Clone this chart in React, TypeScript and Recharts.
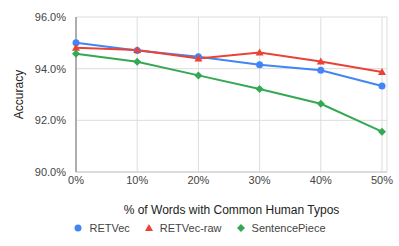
import { LineChart, Line, XAxis, YAxis, CartesianGrid, Legend, Label } from 'recharts';

const TYPO_RATES = ['0%', '10%', '20%', '30%', '40%', '50%'];
const RETVEC = [95.0, 94.7, 94.46, 94.15, 93.94, 93.33];
const RETVEC_RAW = [94.81, 94.72, 94.39, 94.63, 94.28, 93.87];
const SENTENCE_PIECE = [94.58, 94.27, 93.74, 93.21, 92.64, 91.56];
const Y_TICKS = [90, 92, 94, 96];

const SERIES = [
    { dataKey: 'RETVec', color: '#4285F4', shape: 'circle' },
    { dataKey: 'RETVec-raw', color: '#EA4335', shape: 'triangle' },
    { dataKey: 'SentencePiece', color: '#34A853', shape: 'diamond' },
];

const data = TYPO_RATES.map((name, i) => ({
    name,
    RETVec: RETVEC[i],
    'RETVec-raw': RETVEC_RAW[i],
    SentencePiece: SENTENCE_PIECE[i],
}));

const FONT = '"Liberation Sans", Arial, sans-serif';

const Marker = ({ cx, cy, shape, color }: any) => {
    if (cx == null || cy == null) return null;
    if (shape === 'triangle') {
        return <path d={`M${cx},${cy - 4} L${cx + 4},${cy + 3} L${cx - 4},${cy + 3} Z`} fill={color} />;
    }
    if (shape === 'diamond') {
        return <path d={`M${cx},${cy - 4} L${cx + 4},${cy} L${cx},${cy + 4} L${cx - 4},${cy} Z`} fill={color} />;
    }
    return <circle cx={cx} cy={cy} r={3.5} fill={color} />;
};

const LegendContent = () => (
    <div style={{ display: 'flex', justifyContent: 'center', alignItems: 'center', fontFamily: FONT, fontSize: 11, color: '#444' }}>
        {SERIES.map((s) => (
            <div key={s.dataKey} style={{ display: 'flex', alignItems: 'center', margin: '0 7px' }}>
                <svg width={10} height={10} style={{ marginRight: 6 }}>
                    <Marker cx={5} cy={5} shape={s.shape} color={s.color} />
                </svg>
                <span>{s.dataKey}</span>
            </div>
        ))}
    </div>
);

export default function App() {
    return (
        <div style={{ position: 'absolute', left: 0, top: 0, background: '#fff' }}>
            <LineChart width={399} height={246} data={data} margin={{ top: 17, right: 12, left: 0, bottom: 0 }}>
                <CartesianGrid stroke="#dddddd" />
                <XAxis
                    dataKey="name"
                    tickLine={false}
                    tickSize={0}
                    axisLine={{ stroke: '#cccccc' }}
                    tick={{ fontSize: 11, fill: '#444', fontFamily: FONT }}
                    tickMargin={4}
                    padding={{ left: 0, right: 5 }}
                    height={74}
                >
                    <Label value="% of Words with Common Human Typos" position="insideTop" offset={33} style={{ fontSize: 12, fill: '#222', fontFamily: FONT }} />
                </XAxis>
                <YAxis
                    domain={[90, 96]}
                    ticks={Y_TICKS}
                    tickFormatter={(v: number) => `${v.toFixed(1)}%`}
                    tickLine={false}
                    tickSize={0}
                    axisLine={{ stroke: '#999999', strokeWidth: 1.5 }}
                    tick={{ fontSize: 11, fill: '#444', fontFamily: FONT }}
                    tickMargin={10}
                    width={76}
                >
                    <Label value="Accuracy" angle={-90} position="insideLeft" offset={19} style={{ fontSize: 12, fill: '#222', fontFamily: FONT, textAnchor: 'middle' }} />
                </YAxis>
                {SERIES.map((s) => (
                    <Line
                        key={s.dataKey}
                        dataKey={s.dataKey}
                        stroke={s.color}
                        strokeWidth={2}
                        dot={(p: any) => <Marker key={`${s.dataKey}-${p.index}`} cx={p.cx} cy={p.cy} shape={s.shape} color={s.color} />}
                        activeDot={false}
                        isAnimationActive={false}
                    />
                ))}
                <Legend
                    verticalAlign="middle"
                    align="center"
                    content={<LegendContent />}
                    wrapperStyle={{ top: 222, left: 0, width: 399 }}
                />
            </LineChart>
        </div>
    );
}
